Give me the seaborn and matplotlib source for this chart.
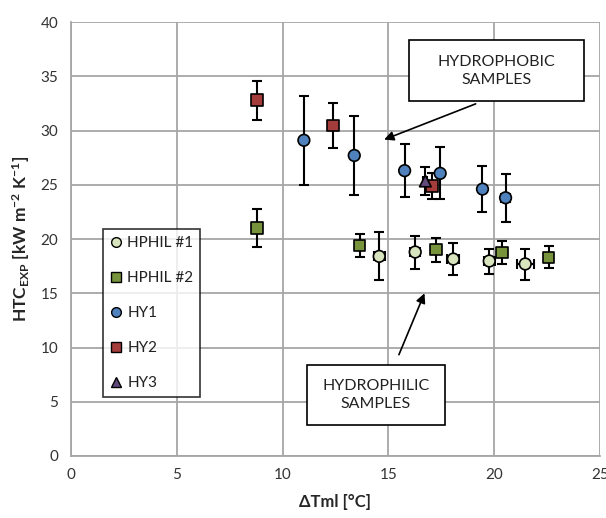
import numpy as np
import pandas as pd
import matplotlib
matplotlib.use("Agg")
import matplotlib.pyplot as plt
import seaborn as sns
from matplotlib.lines import Line2D
from matplotlib.patches import Rectangle

# ---- data ----
series = ["HPHIL #1", "HPHIL #2", "HY1", "HY2", "HY3"]

hphil1_x = [14.57, 16.27, 18.07, 19.77, 21.47]
hphil1_y = [18.4, 18.8, 18.15, 17.97, 17.7]
hphil1_ylo = [16.2, 17.2, 16.65, 16.8, 16.2]
hphil1_yhi = [20.6, 20.3, 19.6, 19.1, 19.05]
hphil1_xerr = [0.26, 0.24, 0.28, 0.25, 0.4]

hphil2_x = [8.8, 13.64, 17.26, 20.37, 22.57]
hphil2_y = [21.0, 19.4, 19.05, 18.74, 18.3]
hphil2_ylo = [19.3, 18.3, 17.9, 17.7, 17.3]
hphil2_yhi = [22.8, 20.5, 20.06, 19.8, 19.35]
hphil2_xerr = [0.1, 0.1, 0.1, 0.15, 0.2]

hy1_x = [11.01, 13.39, 15.77, 17.45, 19.45, 20.54]
hy1_y = [29.1, 27.7, 26.3, 26.05, 24.6, 23.8]
hy1_ylo = [25.0, 24.1, 23.9, 23.65, 22.5, 21.6]
hy1_yhi = [33.2, 31.3, 28.8, 28.45, 26.7, 26.0]
hy1_xerr = [0.1, 0.1, 0.1, 0.1, 0.1, 0.2]

hy2_x = [8.8, 12.38, 17.07]
hy2_y = [32.8, 30.45, 24.9]
hy2_ylo = [31.0, 28.4, 23.7]
hy2_yhi = [34.6, 32.5, 26.1]
hy2_xerr = [0.1, 0.15, 0.1]

hy3_x = [16.75]
hy3_y = [25.35]
hy3_ylo = [24.05]
hy3_yhi = [26.6]
hy3_xerr = [0.1]

x_ticks = [0, 5, 10, 15, 20, 25]
y_ticks = [0, 5, 10, 15, 20, 25, 30, 35, 40]

colors = {"HPHIL #1": "#d7e4bd", "HPHIL #2": "#77933c", "HY1": "#4f81bd",
          "HY2": "#a33c3a", "HY3": "#604a7b"}
markers = {"HPHIL #1": "o", "HPHIL #2": "s", "HY1": "o", "HY2": "s", "HY3": "^"}

data = {
    "HPHIL #1": (hphil1_x, hphil1_y, hphil1_ylo, hphil1_yhi, hphil1_xerr),
    "HPHIL #2": (hphil2_x, hphil2_y, hphil2_ylo, hphil2_yhi, hphil2_xerr),
    "HY1": (hy1_x, hy1_y, hy1_ylo, hy1_yhi, hy1_xerr),
    "HY2": (hy2_x, hy2_y, hy2_ylo, hy2_yhi, hy2_xerr),
    "HY3": (hy3_x, hy3_y, hy3_ylo, hy3_yhi, hy3_xerr),
}

rows = []
for s in series:
    xs, ys, lo, hi, xe = data[s]
    for i in range(len(xs)):
        rows.append(dict(series=s, x=xs[i], y=ys[i], ylo=lo[i], yhi=hi[i], xerr=xe[i]))
df = pd.DataFrame(rows)

sns.set_style("white")
plt.rcParams["font.family"] = ["Lato", "DejaVu Sans"]
plt.rcParams["mathtext.default"] = "regular"

fig = plt.figure(figsize=(6.06, 5.18), dpi=100)
ax = fig.add_axes([0.117, 0.1197, 0.873, 0.8378])

# error bars
for s in series:
    d = df[df.series == s]
    ax.errorbar(d.x, d.y, yerr=[d.y - d.ylo, d.yhi - d.y], xerr=d.xerr,
                fmt="none", ecolor="black", elinewidth=1.5, capsize=3.5,
                capthick=1.5, zorder=3)

sns.scatterplot(data=df, x="x", y="y", hue="series", style="series",
                palette=colors, markers=markers, hue_order=series,
                style_order=series, s=70, edgecolor="black", linewidth=1.2,
                ax=ax, zorder=4, legend=False)

ax.set_xlim(0, 25)
ax.set_ylim(0, 40)
ax.set_xticks(x_ticks)
ax.set_yticks(y_ticks)
ax.grid(True, color="#a6a6a6", linewidth=1.3)
ax.set_axisbelow(True)
for sp in ["top", "right"]:
    ax.spines[sp].set_visible(False)
for sp in ["left", "bottom"]:
    ax.spines[sp].set_color("#a6a6a6")
    ax.spines[sp].set_linewidth(1.3)
ax.tick_params(axis="both", direction="out", length=5, width=1.3, color="#a6a6a6",
               labelsize=11, labelcolor="#333333", pad=4)

ax.set_xlabel("ΔTml [°C]", fontsize=12, fontweight="bold", labelpad=8)
ax.set_ylabel(r"HTC$_{EXP}$ [kW m$^{-2}$ K$^{-1}$]", fontsize=12.5,
              fontweight="bold", labelpad=6)

# legend
handles = [Line2D([], [], linestyle="none", marker=markers[s], markersize=7,
                  markerfacecolor=colors[s], markeredgecolor="black",
                  markeredgewidth=1.0) for s in series]
leg = ax.legend(handles, series, loc="upper left", bbox_to_anchor=(0.0605, 0.523),
                frameon=True, fancybox=False, fontsize=11, labelspacing=1.38,
                handlelength=0.8, handletextpad=0.35, borderpad=0.45,
                borderaxespad=0)
leg.get_frame().set_edgecolor("black")
leg.get_frame().set_linewidth(1.2)
for t in leg.get_texts():
    t.set_color("#222222")

# annotations
ax.annotate("", xy=(14.68, 29.07), xytext=(19.25, 32.55),
            arrowprops=dict(arrowstyle="-|>", color="black", lw=1.2,
                            mutation_scale=14), zorder=5)
ax.annotate("", xy=(16.76, 15.23), xytext=(15.45, 9.1),
            arrowprops=dict(arrowstyle="-|>", color="black", lw=1.2,
                            mutation_scale=14), zorder=5)

ax.add_patch(Rectangle((16.0, 32.7), 8.24, 5.6, facecolor="white",
                       edgecolor="black", lw=1.2, zorder=6))
ax.text(20.12, 35.5, "HYDROPHOBIC\nSAMPLES", ha="center", va="center",
        fontsize=11.5, color="#222222", linespacing=1.4, zorder=7)
ax.add_patch(Rectangle((11.15, 2.86), 6.52, 5.54, facecolor="white",
                       edgecolor="black", lw=1.2, zorder=6))
ax.text(14.41, 5.63, "HYDROPHILIC\nSAMPLES", ha="center", va="center",
        fontsize=11.5, color="#222222", linespacing=1.4, zorder=7)

fig.savefig("out.png", dpi=100)
